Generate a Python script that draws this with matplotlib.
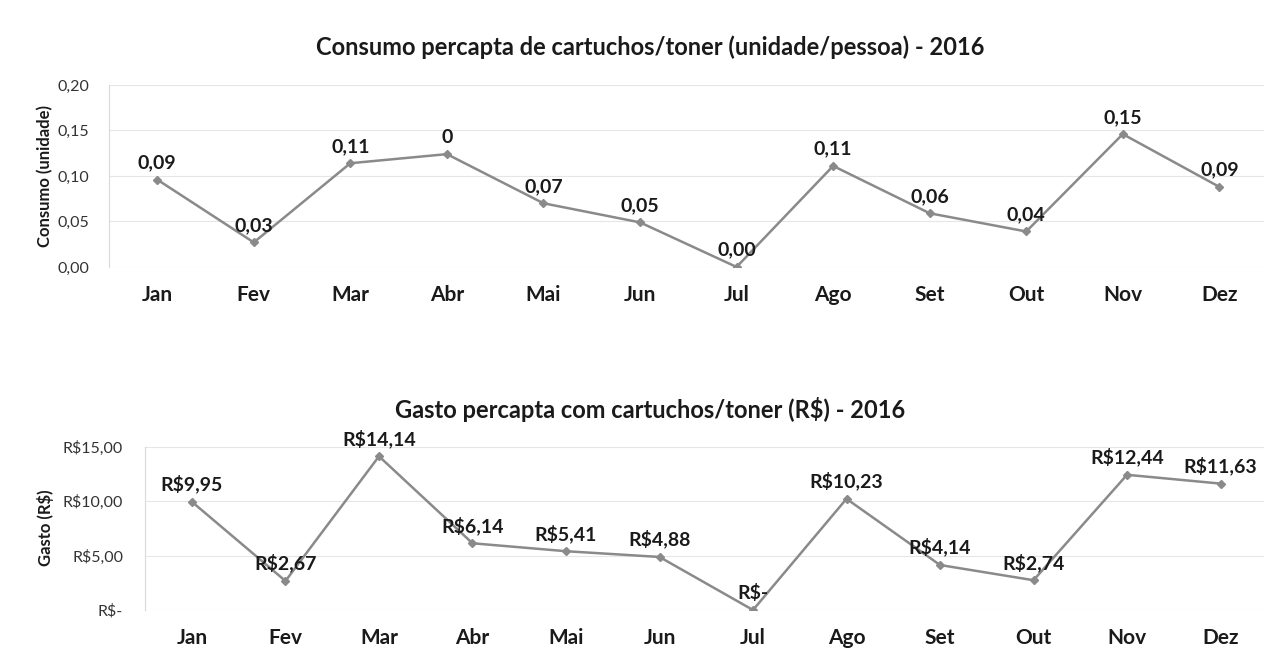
import matplotlib
matplotlib.use("Agg")
import matplotlib.pyplot as plt

plt.rcParams['font.family'] = ['Lato', 'DejaVu Sans']

meses = ["Jan", "Fev", "Mar", "Abr", "Mai", "Jun", "Jul", "Ago", "Set", "Out", "Nov", "Dez"]

# consumo per capita (unidade/pessoa)
consumo = [0.096, 0.027, 0.114, 0.124, 0.070, 0.049, 0.0, 0.111, 0.059, 0.039, 0.146, 0.088]
consumo_rotulos = ["0,09", "0,03", "0,11", "0", "0,07", "0,05", "0,00", "0,11", "0,06", "0,04", "0,15", "0,09"]
consumo_ticks = [0.0, 0.05, 0.10, 0.15, 0.20]
consumo_ticklabels = ["0,00", "0,05", "0,10", "0,15", "0,20"]

# gasto per capita (R$)
gasto = [9.95, 2.67, 14.14, 6.14, 5.41, 4.88, 0.0, 10.23, 4.14, 2.74, 12.44, 11.63]
gasto_rotulos = ["R$9,95", "R$2,67", "R$14,14", "R$6,14", "R$5,41", "R$4,88", "R$-",
                 "R$10,23", "R$4,14", "R$2,74", "R$12,44", "R$11,63"]
gasto_ticks = [0, 5, 10, 15]
gasto_ticklabels = ["R$-", "R$5,00", "R$10,00", "R$15,00"]

cor_linha = "#8a8a8a"
cor_texto = "#1a1a1a"

fig = plt.figure(figsize=(12.64, 6.55), dpi=100)


def desenha(ax, valores, rotulos, ticks, ticklabels, ymax, ypad):
    x = list(range(len(meses)))
    ax.plot(x, valores, color=cor_linha, linewidth=1.8, marker="D", markersize=4,
            markerfacecolor=cor_linha, markeredgecolor=cor_linha)
    for xi, v, r in zip(x, valores, rotulos):
        ax.annotate(r, (xi, v), xytext=(0, 6), textcoords="offset points",
                    ha="center", va="bottom", fontsize=14, fontweight="bold", color=cor_texto)
    ax.set_xlim(-0.5, 11.465)
    ax.set_ylim(0, ymax)
    ax.set_xticks(x)
    ax.set_xticklabels(meses, fontsize=15, fontweight="bold", color=cor_texto)
    ax.set_yticks(ticks)
    ax.set_yticklabels(ticklabels, fontsize=11.5, color="#333333")
    ax.tick_params(axis="x", length=0, pad=13)
    ax.tick_params(axis="y", length=0, pad=ypad)
    ax.grid(axis="y", color="#e6e6e6", linewidth=0.8)
    ax.set_axisbelow(True)
    for s in ["top", "right", "bottom"]:
        ax.spines[s].set_visible(False)
    ax.spines["left"].set_color("#d9d9d9")


ax1 = fig.add_axes([0.0862, 0.5924, 0.914, 0.2779])
desenha(ax1, consumo, consumo_rotulos, consumo_ticks, consumo_ticklabels, 0.20, 14)

ax2 = fig.add_axes([0.1149, 0.0687, 0.8851, 0.2489])
desenha(ax2, gasto, gasto_rotulos, gasto_ticks, gasto_ticklabels, 15, 16)

fig.text(650 / 1264, 1 - 47 / 655, "Consumo percapta de cartuchos/toner (unidade/pessoa) - 2016",
         ha="center", va="center", fontsize=17, fontweight="bold", color=cor_texto)
fig.text(650 / 1264, 1 - 410 / 655, "Gasto percapta com cartuchos/toner (R$) - 2016",
         ha="center", va="center", fontsize=17, fontweight="bold", color=cor_texto)

fig.text(45 / 1264, 1 - 176 / 655, "Consumo (unidade)", rotation=90, ha="center", va="center",
         fontsize=12, fontweight="bold", color=cor_texto)
fig.text(45 / 1264, 1 - 528 / 655, "Gasto (R$)", rotation=90, ha="center", va="center",
         fontsize=12, fontweight="bold", color=cor_texto)

fig.savefig("out.png", dpi=100)
